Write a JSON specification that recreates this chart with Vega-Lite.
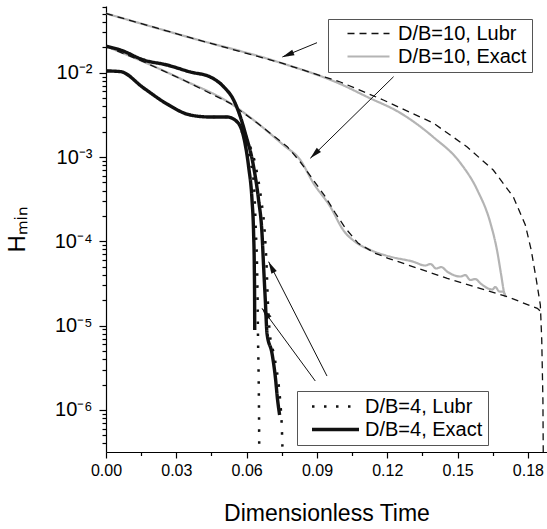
{
  "$schema": "https://vega.github.io/schema/vega-lite/v6.json",
  "width": 441,
  "height": 446,
  "autosize": "none",
  "padding": {"left": 106, "top": 6, "right": 0, "bottom": 77},
  "background": "white",
  "config": {
    "view": {"stroke": null},
    "axis": {"grid": false, "domainColor": "#000", "tickColor": "#000", "labelColor": "#000", "titleColor": "#000", "labelFont": "Liberation Sans", "titleFont": "Liberation Sans", "titleFontWeight": "normal", "domainWidth": 1.2, "tickWidth": 1.2}
  },
  "datasets": {
    "d10exact": [
      {"series": "D/B=10, Exact", "curve": "a", "t": 0, "h": 0.0504},
      {"series": "D/B=10, Exact", "curve": "a", "t": 0.03596, "h": 0.02601},
      {"series": "D/B=10, Exact", "curve": "a", "t": 0.07436, "h": 0.01314},
      {"series": "D/B=10, Exact", "curve": "a", "t": 0.09996, "h": 0.007345},
      {"series": "D/B=10, Exact", "curve": "a", "t": 0.1115, "h": 0.005148},
      {"series": "D/B=10, Exact", "curve": "a", "t": 0.1256, "h": 0.003325},
      {"series": "D/B=10, Exact", "curve": "a", "t": 0.1396, "h": 0.001727},
      {"series": "D/B=10, Exact", "curve": "a", "t": 0.1512, "h": 0.000849},
      {"series": "D/B=10, Exact", "curve": "a", "t": 0.1584, "h": 0.000406},
      {"series": "D/B=10, Exact", "curve": "a", "t": 0.164, "h": 0.0001649},
      {"series": "D/B=10, Exact", "curve": "a", "t": 0.1668, "h": 0.0000788},
      {"series": "D/B=10, Exact", "curve": "a", "t": 0.1686, "h": 0.0000398},
      {"series": "D/B=10, Exact", "curve": "a", "t": 0.1699, "h": 0.00002436},
      {"series": "D/B=10, Exact", "curve": "a", "t": 0.1706, "h": 0.00002183},
      {"series": "D/B=10, Exact", "curve": "b", "t": 0, "h": 0.02056},
      {"series": "D/B=10, Exact", "curve": "b", "t": 0.01591, "h": 0.01351},
      {"series": "D/B=10, Exact", "curve": "b", "t": 0.03298, "h": 0.008192},
      {"series": "D/B=10, Exact", "curve": "b", "t": 0.05303, "h": 0.004335},
      {"series": "D/B=10, Exact", "curve": "b", "t": 0.06455, "h": 0.002531},
      {"series": "D/B=10, Exact", "curve": "b", "t": 0.07564, "h": 0.001388},
      {"series": "D/B=10, Exact", "curve": "b", "t": 0.08289, "h": 0.000921},
      {"series": "D/B=10, Exact", "curve": "b", "t": 0.08844, "h": 0.000492},
      {"series": "D/B=10, Exact", "curve": "b", "t": 0.09569, "h": 0.0002573},
      {"series": "D/B=10, Exact", "curve": "b", "t": 0.1012, "h": 0.0001361},
      {"series": "D/B=10, Exact", "curve": "b", "t": 0.1072, "h": 0.0000947},
      {"series": "D/B=10, Exact", "curve": "b", "t": 0.1128, "h": 0.0000788},
      {"series": "D/B=10, Exact", "curve": "b", "t": 0.1213, "h": 0.0000657},
      {"series": "D/B=10, Exact", "curve": "b", "t": 0.1311, "h": 0.0000573},
      {"series": "D/B=10, Exact", "curve": "b", "t": 0.1362, "h": 0.0000516},
      {"series": "D/B=10, Exact", "curve": "b", "t": 0.1384, "h": 0.0000538},
      {"series": "D/B=10, Exact", "curve": "b", "t": 0.1409, "h": 0.00004756},
      {"series": "D/B=10, Exact", "curve": "b", "t": 0.143, "h": 0.00004955},
      {"series": "D/B=10, Exact", "curve": "b", "t": 0.1456, "h": 0.0000436},
      {"series": "D/B=10, Exact", "curve": "b", "t": 0.1512, "h": 0.00003823},
      {"series": "D/B=10, Exact", "curve": "b", "t": 0.1533, "h": 0.0000398},
      {"series": "D/B=10, Exact", "curve": "b", "t": 0.1554, "h": 0.00003475},
      {"series": "D/B=10, Exact", "curve": "b", "t": 0.1576, "h": 0.0000357},
      {"series": "D/B=10, Exact", "curve": "b", "t": 0.1597, "h": 0.0000318},
      {"series": "D/B=10, Exact", "curve": "b", "t": 0.1648, "h": 0.0000268},
      {"series": "D/B=10, Exact", "curve": "b", "t": 0.1661, "h": 0.0000287},
      {"series": "D/B=10, Exact", "curve": "b", "t": 0.1678, "h": 0.0000254},
      {"series": "D/B=10, Exact", "curve": "b", "t": 0.1695, "h": 0.00002524},
      {"series": "D/B=10, Exact", "curve": "b", "t": 0.1703, "h": 0.00002244}
    ],
    "d10lubr": [
      {"series": "D/B=10, Lubr", "curve": "a", "t": 0, "h": 0.0504},
      {"series": "D/B=10, Lubr", "curve": "a", "t": 0.03596, "h": 0.02601},
      {"series": "D/B=10, Lubr", "curve": "a", "t": 0.07436, "h": 0.01314},
      {"series": "D/B=10, Lubr", "curve": "a", "t": 0.09996, "h": 0.007757},
      {"series": "D/B=10, Lubr", "curve": "a", "t": 0.1183, "h": 0.004745},
      {"series": "D/B=10, Lubr", "curve": "a", "t": 0.1396, "h": 0.002531},
      {"series": "D/B=10, Lubr", "curve": "a", "t": 0.1541, "h": 0.001314},
      {"series": "D/B=10, Lubr", "curve": "a", "t": 0.1652, "h": 0.000701},
      {"series": "D/B=10, Lubr", "curve": "a", "t": 0.1738, "h": 0.0003353},
      {"series": "D/B=10, Lubr", "curve": "a", "t": 0.1789, "h": 0.0001561},
      {"series": "D/B=10, Lubr", "curve": "a", "t": 0.1814, "h": 0.0000788},
      {"series": "D/B=10, Lubr", "curve": "a", "t": 0.1836, "h": 0.00003475},
      {"series": "D/B=10, Lubr", "curve": "a", "t": 0.1853, "h": 0.00001755},
      {"series": "D/B=10, Lubr", "curve": "a", "t": 0.1859, "h": 0.00000675},
      {"series": "D/B=10, Lubr", "curve": "a", "t": 0.1864, "h": 0.00000131},
      {"series": "D/B=10, Lubr", "curve": "a", "t": 0.18656, "h": 0.000000254},
      {"series": "D/B=10, Lubr", "curve": "b", "t": 0, "h": 0.02056},
      {"series": "D/B=10, Lubr", "curve": "b", "t": 0.01591, "h": 0.01351},
      {"series": "D/B=10, Lubr", "curve": "b", "t": 0.03298, "h": 0.008192},
      {"series": "D/B=10, Lubr", "curve": "b", "t": 0.05303, "h": 0.004335},
      {"series": "D/B=10, Lubr", "curve": "b", "t": 0.06455, "h": 0.002531},
      {"series": "D/B=10, Lubr", "curve": "b", "t": 0.06924, "h": 0.001996},
      {"series": "D/B=10, Lubr", "curve": "b", "t": 0.07735, "h": 0.001325},
      {"series": "D/B=10, Lubr", "curve": "b", "t": 0.08289, "h": 0.000872},
      {"series": "D/B=10, Lubr", "curve": "b", "t": 0.08844, "h": 0.000534},
      {"series": "D/B=10, Lubr", "curve": "b", "t": 0.09356, "h": 0.000338},
      {"series": "D/B=10, Lubr", "curve": "b", "t": 0.09783, "h": 0.0002166},
      {"series": "D/B=10, Lubr", "curve": "b", "t": 0.1021, "h": 0.0001438},
      {"series": "D/B=10, Lubr", "curve": "b", "t": 0.1076, "h": 0.0000947},
      {"series": "D/B=10, Lubr", "curve": "b", "t": 0.1149, "h": 0.0000721},
      {"series": "D/B=10, Lubr", "curve": "b", "t": 0.1204, "h": 0.0000629},
      {"series": "D/B=10, Lubr", "curve": "b", "t": 0.1456, "h": 0.0000364},
      {"series": "D/B=10, Lubr", "curve": "b", "t": 0.1712, "h": 0.000022},
      {"series": "D/B=10, Lubr", "curve": "b", "t": 0.184, "h": 0.00001604},
      {"series": "D/B=10, Lubr", "curve": "b", "t": 0.1857, "h": 0.0000145}
    ],
    "d4lubr": [
      {"series": "D/B=4, Lubr", "curve": "a", "t": 0, "h": 0.02056},
      {"series": "D/B=4, Lubr", "curve": "a", "t": 0.0061, "h": 0.01859},
      {"series": "D/B=4, Lubr", "curve": "a", "t": 0.01604, "h": 0.01415},
      {"series": "D/B=4, Lubr", "curve": "a", "t": 0.02602, "h": 0.01234},
      {"series": "D/B=4, Lubr", "curve": "a", "t": 0.03596, "h": 0.0102},
      {"series": "D/B=4, Lubr", "curve": "a", "t": 0.0445, "h": 0.00889},
      {"series": "D/B=4, Lubr", "curve": "a", "t": 0.05017, "h": 0.006823},
      {"series": "D/B=4, Lubr", "curve": "a", "t": 0.05444, "h": 0.004745},
      {"series": "D/B=4, Lubr", "curve": "a", "t": 0.0573, "h": 0.003007},
      {"series": "D/B=4, Lubr", "curve": "a", "t": 0.05943, "h": 0.00191},
      {"series": "D/B=4, Lubr", "curve": "a", "t": 0.06391, "h": 0.000767},
      {"series": "D/B=4, Lubr", "curve": "a", "t": 0.06625, "h": 0.000309},
      {"series": "D/B=4, Lubr", "curve": "a", "t": 0.06775, "h": 0.0001244},
      {"series": "D/B=4, Lubr", "curve": "a", "t": 0.06852, "h": 0.00004996},
      {"series": "D/B=4, Lubr", "curve": "a", "t": 0.06903, "h": 0.00002012},
      {"series": "D/B=4, Lubr", "curve": "a", "t": 0.06988, "h": 0.0000081},
      {"series": "D/B=4, Lubr", "curve": "a", "t": 0.0718, "h": 0.00000436},
      {"series": "D/B=4, Lubr", "curve": "a", "t": 0.0733, "h": 0.00000239},
      {"series": "D/B=4, Lubr", "curve": "a", "t": 0.07428, "h": 0.00000131},
      {"series": "D/B=4, Lubr", "curve": "a", "t": 0.075, "h": 0.000000627},
      {"series": "D/B=4, Lubr", "curve": "a", "t": 0.07543, "h": 0.000000255},
      {"series": "D/B=4, Lubr", "curve": "b", "t": 0, "h": 0.0105},
      {"series": "D/B=4, Lubr", "curve": "b", "t": 0.0061, "h": 0.0103},
      {"series": "D/B=4, Lubr", "curve": "b", "t": 0.01604, "h": 0.006585},
      {"series": "D/B=4, Lubr", "curve": "b", "t": 0.02602, "h": 0.004253},
      {"series": "D/B=4, Lubr", "curve": "b", "t": 0.03596, "h": 0.003148},
      {"series": "D/B=4, Lubr", "curve": "b", "t": 0.0445, "h": 0.002982},
      {"series": "D/B=4, Lubr", "curve": "b", "t": 0.05162, "h": 0.002982},
      {"series": "D/B=4, Lubr", "curve": "b", "t": 0.05589, "h": 0.002622},
      {"series": "D/B=4, Lubr", "curve": "b", "t": 0.0587, "h": 0.001741},
      {"series": "D/B=4, Lubr", "curve": "b", "t": 0.06156, "h": 0.000921},
      {"series": "D/B=4, Lubr", "curve": "b", "t": 0.06327, "h": 0.000406},
      {"series": "D/B=4, Lubr", "curve": "b", "t": 0.06391, "h": 0.0001361},
      {"series": "D/B=4, Lubr", "curve": "b", "t": 0.06442, "h": 0.0000548},
      {"series": "D/B=4, Lubr", "curve": "b", "t": 0.06468, "h": 0.00002012},
      {"series": "D/B=4, Lubr", "curve": "b", "t": 0.06485, "h": 0.00000732},
      {"series": "D/B=4, Lubr", "curve": "b", "t": 0.0651, "h": 0.000002718},
      {"series": "D/B=4, Lubr", "curve": "b", "t": 0.06527, "h": 0.000000997},
      {"series": "D/B=4, Lubr", "curve": "b", "t": 0.0654, "h": 0.000000255}
    ],
    "d4exact": [
      {"series": "D/B=4, Exact", "curve": "a", "t": 0, "h": 0.02056},
      {"series": "D/B=4, Exact", "curve": "a", "t": 0.0061, "h": 0.01859},
      {"series": "D/B=4, Exact", "curve": "a", "t": 0.01604, "h": 0.01415},
      {"series": "D/B=4, Exact", "curve": "a", "t": 0.02602, "h": 0.01234},
      {"series": "D/B=4, Exact", "curve": "a", "t": 0.03596, "h": 0.0102},
      {"series": "D/B=4, Exact", "curve": "a", "t": 0.0445, "h": 0.00889},
      {"series": "D/B=4, Exact", "curve": "a", "t": 0.05017, "h": 0.006823},
      {"series": "D/B=4, Exact", "curve": "a", "t": 0.05444, "h": 0.004745},
      {"series": "D/B=4, Exact", "curve": "a", "t": 0.0573, "h": 0.003007},
      {"series": "D/B=4, Exact", "curve": "a", "t": 0.05943, "h": 0.00191},
      {"series": "D/B=4, Exact", "curve": "a", "t": 0.06297, "h": 0.000767},
      {"series": "D/B=4, Exact", "curve": "a", "t": 0.0651, "h": 0.000309},
      {"series": "D/B=4, Exact", "curve": "a", "t": 0.06655, "h": 0.0001244},
      {"series": "D/B=4, Exact", "curve": "a", "t": 0.06724, "h": 0.00004996},
      {"series": "D/B=4, Exact", "curve": "a", "t": 0.06796, "h": 0.00002012},
      {"series": "D/B=4, Exact", "curve": "a", "t": 0.06869, "h": 0.0000081},
      {"series": "D/B=4, Exact", "curve": "a", "t": 0.07082, "h": 0.00000469},
      {"series": "D/B=4, Exact", "curve": "a", "t": 0.07223, "h": 0.000002476},
      {"series": "D/B=4, Exact", "curve": "a", "t": 0.07321, "h": 0.00000131},
      {"series": "D/B=4, Exact", "curve": "a", "t": 0.07406, "h": 0.00000087},
      {"series": "D/B=4, Exact", "curve": "b", "t": 0, "h": 0.0105},
      {"series": "D/B=4, Exact", "curve": "b", "t": 0.0061, "h": 0.0103},
      {"series": "D/B=4, Exact", "curve": "b", "t": 0.01604, "h": 0.006585},
      {"series": "D/B=4, Exact", "curve": "b", "t": 0.02602, "h": 0.004253},
      {"series": "D/B=4, Exact", "curve": "b", "t": 0.03596, "h": 0.003148},
      {"series": "D/B=4, Exact", "curve": "b", "t": 0.0445, "h": 0.002982},
      {"series": "D/B=4, Exact", "curve": "b", "t": 0.05162, "h": 0.002982},
      {"series": "D/B=4, Exact", "curve": "b", "t": 0.05589, "h": 0.002622},
      {"series": "D/B=4, Exact", "curve": "b", "t": 0.0587, "h": 0.001741},
      {"series": "D/B=4, Exact", "curve": "b", "t": 0.06084, "h": 0.000767},
      {"series": "D/B=4, Exact", "curve": "b", "t": 0.06229, "h": 0.000309},
      {"series": "D/B=4, Exact", "curve": "b", "t": 0.06297, "h": 0.0001244},
      {"series": "D/B=4, Exact", "curve": "b", "t": 0.06327, "h": 0.00004996},
      {"series": "D/B=4, Exact", "curve": "b", "t": 0.0634, "h": 0.00002012},
      {"series": "D/B=4, Exact", "curve": "b", "t": 0.06345, "h": 0.00000887}
    ],
    "arrows": [
      {"t": 0.09002, "h": 0.02269, "t2": 0.07521, "h2": 0.01535},
      {"t": 0.1227, "h": 0.008966, "t2": 0.08716, "h2": 0.000965},
      {"t": 0.09428, "h": 0.000002524, "t2": 0.06937, "h2": 0.0000573},
      {"t": 0.08929, "h": 0.000002203, "t2": 0.06655, "h2": 0.00001604}
    ]
  },
  "encoding": {
    "x": {
      "field": "t", "type": "quantitative",
      "scale": {"domain": [0, 0.18814], "nice": false, "zero": false},
      "axis": {
        "title": "Dimensionless Time",
        "values": [0, 0.015, 0.03, 0.045, 0.06, 0.075, 0.09, 0.105, 0.12, 0.135, 0.15, 0.165, 0.18],
        "labelExpr": "round(datum.value*1000) % 30 == 0 ? format(datum.value, '.2f') : ''",
        "tickSize": {"condition": {"test": "round(datum.value*1000) % 30 == 0", "value": 6}, "value": 3.5},
        "labelFontSize": 16, "titleFontSize": 23, "labelPadding": 4, "titlePadding": 24,
        "labelFlush": false, "labelOverlap": false
      }
    },
    "y": {
      "field": "h", "type": "quantitative",
      "scale": {"type": "log", "domain": [3.17e-7, 0.0618], "nice": false},
      "axis": {
        "title": "Hₘᵢₙ",
        "values": [4e-7, 5e-7, 6e-7, 7e-7, 8e-7, 9e-7, 1e-6, 2e-6, 3e-6, 4e-6, 5e-6, 6e-6, 7e-6, 8e-6, 9e-6, 1e-5, 2e-5, 3e-5, 4e-5, 5e-5, 6e-5, 7e-5, 8e-5, 9e-5, 1e-4, 2e-4, 3e-4, 4e-4, 5e-4, 6e-4, 7e-4, 8e-4, 9e-4, 1e-3, 2e-3, 3e-3, 4e-3, 5e-3, 6e-3, 7e-3, 8e-3, 9e-3, 0.01, 0.02, 0.03, 0.04, 0.05, 0.06],
        "labelExpr": "abs(log(datum.value)/LN10 - round(log(datum.value)/LN10)) > 0.01 ? '' : round(log(datum.value)/LN10) == -2 ? '10⁻²' : round(log(datum.value)/LN10) == -3 ? '10⁻³' : round(log(datum.value)/LN10) == -4 ? '10⁻⁴' : round(log(datum.value)/LN10) == -5 ? '10⁻⁵' : '10⁻⁶'",
        "tickSize": {"condition": {"test": "abs(log(datum.value)/LN10 - round(log(datum.value)/LN10)) < 0.01", "value": 7}, "value": 4},
        "labelFontSize": 20, "titleFontSize": 24, "labelPadding": 7, "titlePadding": 25,
        "labelFlush": false, "labelOverlap": false
      }
    }
  },
  "layer": [
    {
      "layer": [
        {
          "data": {"name": "d10exact"},
          "mark": {"type": "line", "clip": true, "strokeCap": "butt", "interpolate": "monotone"},
          "encoding": {
            "detail": {"field": "curve"},
            "stroke": {"field": "series", "type": "nominal", "scale": {"domain": ["D/B=10, Lubr", "D/B=10, Exact"], "range": ["#111111", "#b4b4b4"]},
              "legend": {"orient": "none", "legendX": 222, "legendY": 13, "title": null, "symbolType": "stroke", "symbolSize": 1764, "clipHeight": 19, "labelFontSize": 20, "labelFont": "Liberation Sans", "labelColor": "#000", "strokeColor": "#555", "fillColor": "#fff", "padding": 5, "symbolOffset": 13, "labelOffset": 7, "rowPadding": 2}},
            "strokeDash": {"field": "series", "type": "nominal", "scale": {"domain": ["D/B=10, Lubr", "D/B=10, Exact"], "range": [[7, 5], [1, 0]]},
              "legend": {"orient": "none", "legendX": 222, "legendY": 13, "title": null, "symbolType": "stroke", "symbolSize": 1764, "clipHeight": 19, "labelFontSize": 20, "labelFont": "Liberation Sans", "labelColor": "#000", "strokeColor": "#555", "fillColor": "#fff", "padding": 5, "symbolOffset": 13, "labelOffset": 7, "rowPadding": 2}},
            "strokeWidth": {"field": "series", "type": "nominal", "scale": {"type": "point", "padding": 0, "domain": ["D/B=10, Lubr", "D/B=10, Exact"], "range": [1.3, 2.2]},
              "legend": {"orient": "none", "legendX": 222, "legendY": 13, "title": null, "symbolType": "stroke", "symbolSize": 1764, "clipHeight": 19, "labelFontSize": 20, "labelFont": "Liberation Sans", "labelColor": "#000", "strokeColor": "#555", "fillColor": "#fff", "padding": 5, "symbolOffset": 13, "labelOffset": 7, "rowPadding": 2}}
          }
        },
        {
          "data": {"name": "d10lubr"},
          "mark": {"type": "line", "clip": true, "strokeCap": "butt", "interpolate": "linear"},
          "encoding": {
            "detail": {"field": "curve"},
            "stroke": {"field": "series", "type": "nominal", "scale": {"domain": ["D/B=10, Lubr", "D/B=10, Exact"], "range": ["#111111", "#b4b4b4"]}},
            "strokeDash": {"field": "series", "type": "nominal", "scale": {"domain": ["D/B=10, Lubr", "D/B=10, Exact"], "range": [[7, 5], [1, 0]]}},
            "strokeWidth": {"field": "series", "type": "nominal", "scale": {"type": "point", "padding": 0, "domain": ["D/B=10, Lubr", "D/B=10, Exact"], "range": [1.3, 2.2]}}
          }
        }
      ]
    },
    {
      "layer": [
        {
          "data": {"name": "d4lubr"},
          "mark": {"type": "line", "clip": true, "strokeCap": "butt", "interpolate": "monotone"},
          "encoding": {
            "detail": {"field": "curve"},
            "stroke": {"field": "series", "type": "nominal", "scale": {"domain": ["D/B=4, Lubr", "D/B=4, Exact"], "range": ["#111111", "#111111"]},
              "legend": {"orient": "none", "legendX": 191, "legendY": 385, "title": null, "symbolType": "stroke", "symbolSize": 2209, "clipHeight": 21, "labelFontSize": 20, "labelFont": "Liberation Sans", "labelColor": "#000", "strokeColor": "#555", "fillColor": "#fff", "padding": 5, "symbolOffset": 8, "labelOffset": 4, "rowPadding": 2}},
            "strokeDash": {"field": "series", "type": "nominal", "scale": {"domain": ["D/B=4, Lubr", "D/B=4, Exact"], "range": [[2.5, 9.5], [1, 0]]},
              "legend": {"orient": "none", "legendX": 191, "legendY": 385, "title": null, "symbolType": "stroke", "symbolSize": 2209, "clipHeight": 21, "labelFontSize": 20, "labelFont": "Liberation Sans", "labelColor": "#000", "strokeColor": "#555", "fillColor": "#fff", "padding": 5, "symbolOffset": 8, "labelOffset": 4, "rowPadding": 2}},
            "strokeWidth": {"field": "series", "type": "nominal", "scale": {"type": "point", "padding": 0, "domain": ["D/B=4, Lubr", "D/B=4, Exact"], "range": [2.5, 3.4]},
              "legend": {"orient": "none", "legendX": 191, "legendY": 385, "title": null, "symbolType": "stroke", "symbolSize": 2209, "clipHeight": 21, "labelFontSize": 20, "labelFont": "Liberation Sans", "labelColor": "#000", "strokeColor": "#555", "fillColor": "#fff", "padding": 5, "symbolOffset": 8, "labelOffset": 4, "rowPadding": 2}}
          }
        },
        {
          "data": {"name": "d4exact"},
          "mark": {"type": "line", "clip": true, "strokeCap": "butt", "interpolate": "monotone"},
          "encoding": {
            "detail": {"field": "curve"},
            "stroke": {"field": "series", "type": "nominal", "scale": {"domain": ["D/B=4, Lubr", "D/B=4, Exact"], "range": ["#111111", "#111111"]}},
            "strokeDash": {"field": "series", "type": "nominal", "scale": {"domain": ["D/B=4, Lubr", "D/B=4, Exact"], "range": [[2.5, 9.5], [1, 0]]}},
            "strokeWidth": {"field": "series", "type": "nominal", "scale": {"type": "point", "padding": 0, "domain": ["D/B=4, Lubr", "D/B=4, Exact"], "range": [2.5, 3.4]}}
          }
        }
      ]
    },
    {
      "data": {"name": "arrows"},
      "mark": {"type": "rule", "color": "#111111", "strokeWidth": 1},
      "encoding": {"x2": {"field": "t2"}, "y2": {"field": "h2"}}
    },
    {
      "data": {"values": [{"t": 0.07521, "h": 0.01535}]},
      "mark": {"type": "point", "shape": "M0,0L-0.5,2L0.5,2Z", "filled": true, "color": "#111111", "opacity": 1, "size": 144, "angle": 247.6}
    },
    {
      "data": {"values": [{"t": 0.08716, "h": 0.000965}]},
      "mark": {"type": "point", "shape": "M0,0L-0.5,2L0.5,2Z", "filled": true, "color": "#111111", "opacity": 1, "size": 144, "angle": 225.6}
    },
    {
      "data": {"values": [{"t": 0.06937, "h": 0.0000573}]},
      "mark": {"type": "point", "shape": "M0,0L-0.5,2L0.5,2Z", "filled": true, "color": "#111111", "opacity": 1, "size": 144, "angle": 332.9}
    },
    {
      "data": {"values": [{"t": 0.06655, "h": 0.00001604}]},
      "mark": {"type": "point", "shape": "M0,0L-0.5,2L0.5,2Z", "filled": true, "color": "#111111", "opacity": 1, "size": 144, "angle": 323.8}
    }
  ],
  "resolve": {"scale": {"stroke": "independent", "strokeDash": "independent", "strokeWidth": "independent"}}
}
